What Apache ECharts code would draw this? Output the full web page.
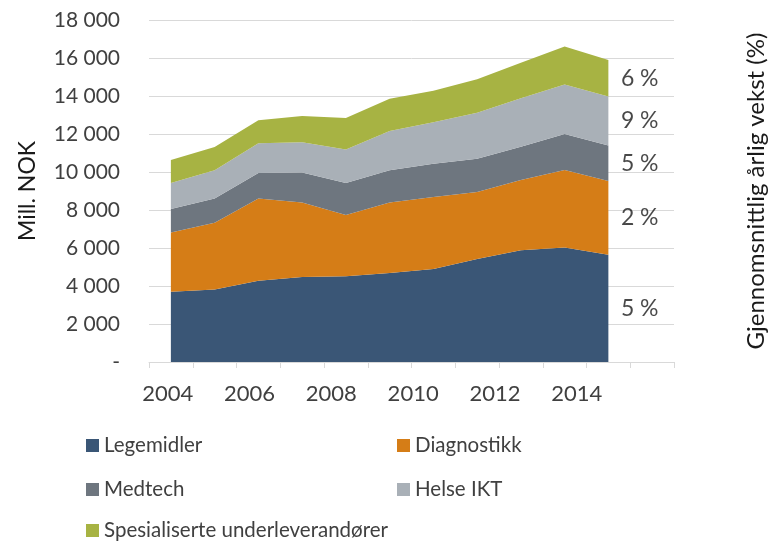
<!DOCTYPE html>
<html>
<head>
<meta charset="utf-8">
<script src="https://cdn.jsdelivr.net/npm/echarts@6/dist/echarts.min.js"></script>
<style>
  html, body { margin: 0; padding: 0; background: #fff; }
  #main { width: 776px; height: 541px; }
</style>
</head>
<body>
<div id="main"></div>
<script>
// år (2015 er en tom kategori, slik som i originalen)
const years = ['2004','2005','2006','2007','2008','2009','2010','2011','2012','2013','2014','2015'];
const yearTicks = [2004, 2006, 2008, 2010, 2012, 2014];
const legemidler   = [3700, 3810, 4280, 4470, 4510, 4680, 4900, 5420, 5880, 6020, 5650];
const diagnostikk  = [3120, 3520, 4320, 3930, 3230, 3710, 3790, 3530, 3700, 4080, 3880];
const medtech      = [1230, 1270, 1350, 1580, 1680, 1700, 1740, 1750, 1750, 1900, 1860];
const helseIkt     = [1370, 1490, 1560, 1580, 1770, 2070, 2190, 2420, 2550, 2600, 2590];
const spesialisert = [1210, 1230, 1210, 1390, 1650, 1700, 1660, 1760, 1870, 2000, 1920];
const names = ['Legemidler', 'Diagnostikk', 'Medtech', 'Helse IKT', 'Spesialiserte underleverandører'];
const growth = ['5 %', '2 %', '5 %', '9 %', '6 %'];
const colors = ['#3a5676', '#d57d17', '#6e767f', '#a9b0b7', '#a7b343'];

const font = 'Lato';
const txt = '#404040';

const all = [legemidler, diagnostikk, medtech, helseIkt, spesialisert];
const last = legemidler.length - 1;

// midtpunkt av hvert lag i siste år, for vekst-etikettene
let acc = 0;
const growthPoints = all.map((arr, i) => {
    const mid = acc + arr[last] / 2;
    acc += arr[last];
    return { value: [last, mid], label: { formatter: growth[i] } };
});

const myChart = echarts.init(document.getElementById('main'));

const series = all.map((arr, i) => ({
    name: names[i],
    type: 'line',
    stack: 'total',
    xAxisIndex: 0,
    yAxisIndex: 0,
    data: arr,
    symbol: 'none',
    lineStyle: { width: 0 },
    areaStyle: { color: colors[i], opacity: 1 },
    itemStyle: { color: colors[i] },
    z: 2
}));

series.push({
    name: 'vekst',
    type: 'scatter',
    xAxisIndex: 0,
    yAxisIndex: 0,
    data: growthPoints,
    symbolSize: 1,
    itemStyle: { color: 'rgba(0,0,0,0)' },
    label: {
        show: true,
        position: 'right',
        distance: 12,
        color: '#1a1a1a',
        fontFamily: font,
        fontSize: 23
    },
    silent: true,
    z: 5
});

// en legende per element, plassert i to kolonner
const legendPos = [[86, 435], [397, 435], [86, 479], [397, 479], [86, 520]];
const legends = names.map((n, i) => ({
    data: [n],
    left: legendPos[i][0],
    top: legendPos[i][1],
    padding: 0,
    itemGap: 0,
    itemWidth: 13, itemHeight: 13,
    icon: 'rect',
    textStyle: { fontFamily: font, fontSize: 20.5, color: txt, padding: [0, 0, 0, 0] }
}));

myChart.setOption({
    animation: false,
    color: colors,
    grid: { left: 149, right: 99, top: 20, bottom: 179 },
    legend: legends,
    xAxis: [
        {
            type: 'category',
            data: years,
            boundaryGap: true,
            axisLine: { lineStyle: { color: '#d9d9d9', width: 1 } },
            axisTick: { show: true, interval: 0, length: 6, lineStyle: { color: '#d9d9d9' } },
            axisLabel: { show: false }
        },
        {
            // årsetikettene i originalen står litt tettere enn kategoriene
            type: 'value',
            position: 'bottom',
            offset: 0,
            min: 2003.54,
            max: 2016.38,
            axisLine: { show: false },
            axisTick: { show: false },
            splitLine: { show: false },
            axisLabel: {
                customValues: yearTicks,
                margin: 21,
                color: txt,
                fontFamily: font,
                fontSize: 22,
                formatter: v => String(v)
            }
        }
    ],
    yAxis: [
        {
            type: 'value',
            min: 0, max: 18000, interval: 2000,
            name: 'Mill. NOK',
            nameLocation: 'middle',
            nameRotate: 90,
            nameGap: 110,
            nameTextStyle: { fontFamily: font, fontSize: 23, color: '#1a1a1a' },
            axisLine: { show: false },
            axisTick: { show: false },
            splitLine: { lineStyle: { color: '#d9d9d9', width: 1 } },
            axisLabel: {
                margin: 29,
                color: txt,
                fontFamily: font,
                fontSize: 21,
                formatter: v => v === 0 ? '-' : String(v).replace(/\B(?=(\d{3})+(?!\d))/g, ' ')
            }
        },
        {
            type: 'value',
            position: 'right',
            min: 0, max: 18000, interval: 2000,
            name: 'Gjennomsnittlig årlig vekst (%)',
            nameLocation: 'middle',
            nameRotate: 90,
            nameGap: 70,
            nameTextStyle: { fontFamily: font, fontSize: 24, color: '#1a1a1a' },
            axisLine: { show: false },
            axisTick: { show: false },
            axisLabel: { show: false },
            splitLine: { show: false }
        }
    ],
    series: series
});
</script>
</body>
</html>
